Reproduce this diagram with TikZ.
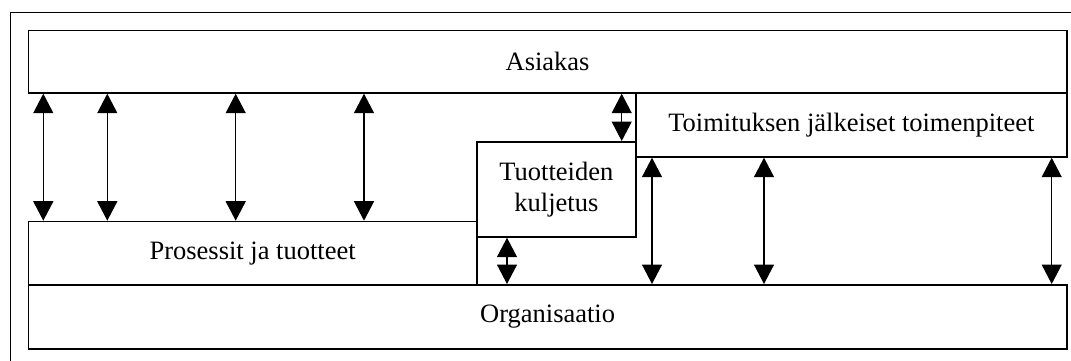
\documentclass[tikz,border=0pt]{standalone}
\usepackage{fontspec}
\setmainfont{Liberation Serif}
\usetikzlibrary{arrows.meta}
\begin{document}
\begin{tikzpicture}[x=1pt,y=-1pt,
  box/.style={draw,line width=1.7pt,inner sep=0pt,anchor=north west,
    font=\fontsize{26.5}{31}\selectfont,align=center},
  link/.style={line width=1.4pt,
    {Triangle[length=19.5pt,width=20pt]}-{Triangle[length=19.5pt,width=20pt]}}]
\clip (0,0) rectangle (1071,360);
\fill[white] (0,0) rectangle (1071,360);
\draw[line width=1.5pt] (10.5,12.5) rectangle (1090,380);
\node[box,minimum width=1038.5pt,minimum height=62.5pt] (asiakas) at (27.5,29.5) {Asiakas};
\node[box,minimum width=431pt,minimum height=64pt] (toim) at (635,92) {Toimituksen jälkeiset toimenpiteet};
\node[box,minimum width=159pt,minimum height=95pt] (tuot) at (476,141) {Tuotteiden\\kuljetus};
\node[box,minimum width=448.5pt,minimum height=63.3pt] (pros) at (27.5,220.7) {Prosessit ja tuotteet};
\node[box,minimum width=1038.5pt,minimum height=64pt] (org) at (27.5,284) {Organisaatio};
\foreach \s in {15.8,79.8,208.2,336.5}
  \draw[link] ([xshift=\s pt]asiakas.south west) -- ([xshift=\s pt]pros.north west);
\coordinate (t1) at ([xshift=-15pt]tuot.north east);
\draw[link] (t1 |- asiakas.south) -- (t1);
\coordinate (t2) at ([xshift=31pt]tuot.south west);
\draw[link] (t2) -- (t2 |- org.north);
\foreach \s in {17,129,416.7}
  \draw[link] ([xshift=\s pt]toim.south west) -- ([xshift=\s pt]toim.south west |- org.north);
\end{tikzpicture}
\end{document}
